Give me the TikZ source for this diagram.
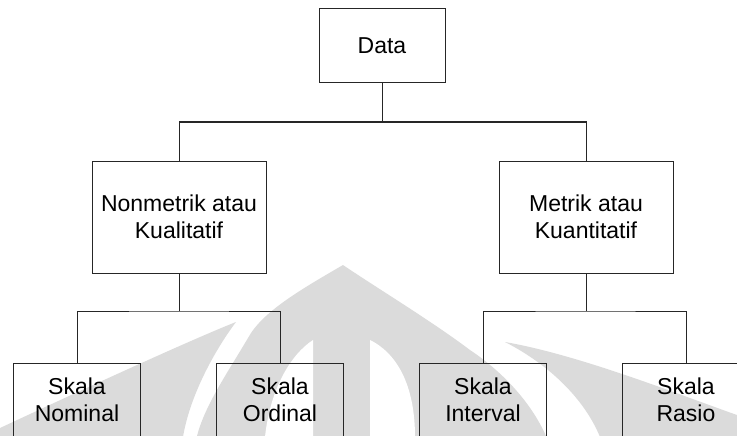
\documentclass[tikz,border=0pt]{standalone}
\usepackage{fontspec}
\setmainfont{Liberation Sans}
\begin{document}
\begin{tikzpicture}[x=1pt,y=-1pt,
  box/.style={draw=black!85, line width=1pt, inner sep=0pt, align=center,
    font=\fontsize{23}{27}\selectfont},
  topbox/.style={box, minimum width=126pt, minimum height=74pt},
  midbox/.style={box, minimum width=174pt, minimum height=112pt},
  leafbox/.style={box, minimum width=127pt, minimum height=74pt},
  link/.style={draw=black!85, line width=1pt},
  wm/.style={fill=black!14, draw=none},
  wmgap/.style={fill=white, draw=none}]
\useasboundingbox (0,0) rectangle (737,436);

% faint background emblem
\begin{scope}
  \clip (0,0) rectangle (737,436);
  % central flame
  \fill[wm] (343,265) .. controls (300,290) and (262,312) .. (248,338)
    .. controls (228,372) and (205,405) .. (197,436) -- (546,436)
    .. controls (530,400) and (500,370) .. (470,350)
    .. controls (430,320) and (380,290) .. cycle;
  % openings inside the flame
  \fill[wmgap] (313,340) -- (313,437) -- (265,437)
    .. controls (270,390) and (290,355) .. cycle;
  \fill[wmgap] (370,340) -- (370,437) -- (415,437)
    .. controls (415,390) and (400,355) .. cycle;
  % left leaf
  \fill[wm] (236,322) .. controls (190,340) and (60,400) .. (0,428)
    -- (0,437) -- (183,437) .. controls (190,395) and (215,350) .. cycle;
  % right leaf
  \fill[wm] (505,342) .. controls (580,355) and (680,395) .. (737,415)
    -- (737,437) -- (600,437) .. controls (585,400) and (550,365) .. cycle;
\end{scope}

% boxes
\node[topbox] (data) at (382,46) {Data};
\node[midbox] (nonmetrik) at (179,217) {Nonmetrik atau\\Kualitatif};
\node[midbox] (metrik) at (586,217) {Metrik atau\\Kuantitatif};
\node[leafbox] (nominal) at (77,400) {Skala\\Nominal};
\node[leafbox] (ordinal) at (280,400) {Skala\\Ordinal};
\node[leafbox] (interval) at (483,400) {Skala\\Interval};
\node[leafbox] (rasio) at (686,400) {Skala\\Rasio};

% branch points
\coordinate (busTop) at (382,122);
\coordinate (busLeft) at (179,311);
\coordinate (busRight) at (586,311);

% connectors
\draw[link] (data.south) -- (busTop);
\draw[link] (nonmetrik.north) |- (busTop) -| (metrik.north);
\draw[link] (nonmetrik.south) -- (busLeft);
\draw[link] (nominal.north) |- (busLeft) -| (ordinal.north);
\draw[link] (metrik.south) -- (busRight);
\draw[link] (interval.north) |- (busRight) -| (rasio.north);
\end{tikzpicture}
\end{document}
